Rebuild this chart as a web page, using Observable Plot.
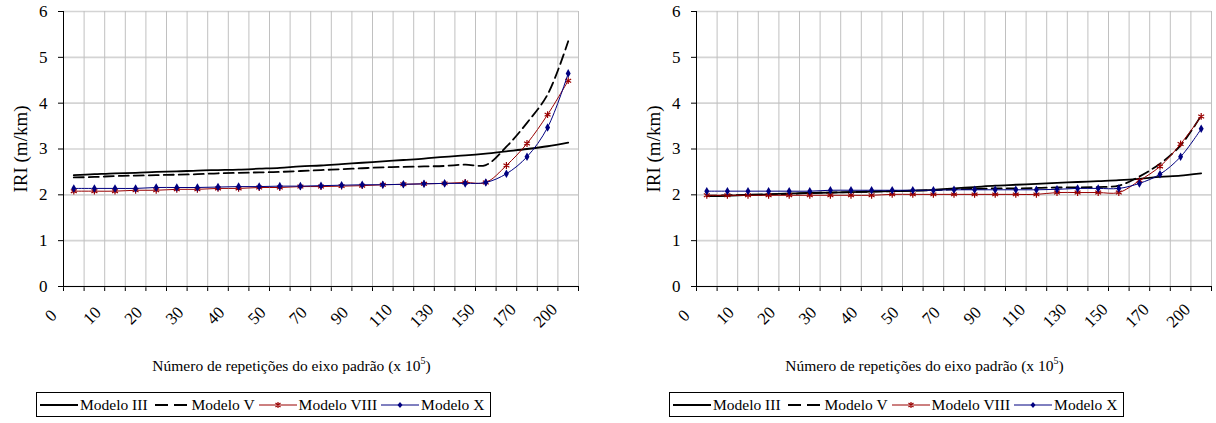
<!DOCTYPE html>
<html><head><meta charset="utf-8">
<script src="https://cdn.jsdelivr.net/npm/d3@7"></script>
<script src="https://cdn.jsdelivr.net/npm/@observablehq/plot@0.6"></script>
<style>
body{margin:0;background:#fff;font-family:"Liberation Serif","Times New Roman",serif;color:#000;}
#wrap{position:relative;width:1216px;height:423px;overflow:hidden;background:#fff;}
.panel{position:absolute;top:0;width:583px;height:423px;}
.panel > svg{position:absolute;left:0;top:0;}
.xtitle{position:absolute;top:357px;left:0;width:583px;text-align:center;font-size:15.5px;line-height:18px;white-space:nowrap;}
.xtitle sup{font-size:10px;line-height:0;vertical-align:7px;}
.legend{position:absolute;top:392px;left:36px;height:25px;border:1px solid #000;display:flex;align-items:center;font-size:15.5px;white-space:nowrap;padding:0 3px 0 2px;box-sizing:border-box;}
.legend svg{display:block;flex:none;}
.legend span{margin:0 3px 0 1px;}
</style></head><body><div id="wrap"></div>
<script>
// categories along the x axis (every other one is labelled)
const categories = ["0","5","10","15","20","25","30","35","40","45","50","60","70","80","90","100","110","120","130","140","150","160","170","185","200"];
const tickLabels = ["0","10","20","30","40","50","70","90","110","130","150","170","200"];
const yTicks = [0,1,2,3,4,5,6];
const seriesNames = ["Modelo III","Modelo V","Modelo VIII","Modelo X"];
const xTitle = "Número de repetições do eixo padrão (x 10";
const xTitleSup = "5";
const yTitle = "IRI (m/km)";

// left panel
const leftIII  = [2.43,2.45,2.47,2.48,2.50,2.51,2.53,2.54,2.55,2.57,2.59,2.62,2.64,2.67,2.70,2.73,2.76,2.79,2.83,2.86,2.90,2.95,3.00,3.06,3.14];
const leftV    = [2.38,2.39,2.41,2.42,2.43,2.44,2.45,2.47,2.48,2.49,2.50,2.52,2.54,2.56,2.58,2.60,2.61,2.62,2.63,2.66,2.65,3.05,3.57,4.19,5.35];
const leftVIII = [2.08,2.08,2.08,2.10,2.10,2.12,2.12,2.14,2.14,2.16,2.16,2.18,2.18,2.19,2.20,2.22,2.23,2.24,2.25,2.27,2.27,2.64,3.12,3.75,4.49];
const leftX    = [2.14,2.14,2.14,2.14,2.16,2.16,2.16,2.17,2.18,2.18,2.19,2.19,2.20,2.21,2.22,2.22,2.23,2.24,2.25,2.25,2.27,2.46,2.83,3.47,4.65];

// right panel
const rightIII  = [1.97,1.98,2.00,2.01,2.03,2.04,2.05,2.06,2.07,2.08,2.09,2.11,2.14,2.17,2.20,2.22,2.24,2.26,2.28,2.30,2.32,2.35,2.39,2.42,2.47];
const rightV    = [1.98,1.99,2.00,2.01,2.02,2.04,2.05,2.06,2.07,2.08,2.09,2.10,2.12,2.13,2.14,2.14,2.15,2.16,2.16,2.17,2.20,2.40,2.68,3.08,3.73];
const rightVIII = [1.99,1.99,1.99,1.99,1.99,1.99,1.99,1.99,1.99,2.01,2.01,2.01,2.01,2.01,2.01,2.01,2.01,2.05,2.05,2.05,2.05,2.31,2.62,3.11,3.71];
const rightX    = [2.08,2.08,2.08,2.08,2.08,2.08,2.10,2.10,2.10,2.10,2.10,2.10,2.11,2.11,2.11,2.11,2.11,2.12,2.14,2.14,2.14,2.25,2.45,2.83,3.44];

const FONT = '"Liberation Serif","Times New Roman",serif';
const RED = "#990000", BLUE = "#000080";

function rows(arr){ return arr.map((v,i)=>({i, v})); }

function makePlot(III, V, VIII, X){
  const n = categories.length;
  const boundaries = d3.range(n+1).map(k=>k-0.5);
  const labelIdx = tickLabels.map(t=>categories.indexOf(t));
  return Plot.plot({
    width: 583, height: 340,
    marginTop: 11, marginLeft: 63, marginRight: 5, marginBottom: 54,
    style: {fontFamily: FONT, fontSize: "17px", background: "white", color: "black", overflow: "visible"},
    x: {type: "linear", domain: [-0.5, n-0.5], ticks: boundaries, tickFormat: () => "", tickSize: 5, label: null},
    y: {domain: [0,6], ticks: yTicks, tickFormat: d3.format("d"), tickSize: 5, tickPadding: 11, label: null},
    marks: [
      Plot.ruleY(yTicks, {stroke: "#d4d4d4", strokeWidth: 1.6}),
      Plot.ruleX(boundaries, {stroke: "#c0c0c0", strokeWidth: 1}),
      Plot.ruleY([0], {stroke: "black", strokeWidth: 1}),
      Plot.ruleX([-0.5], {stroke: "black", strokeWidth: 1}),
      Plot.text(labelIdx, {x: d=>d, frameAnchor: "bottom", text: d=>categories[d], rotate: -45, dx: -19, dy: 33, fontSize: 17, textAnchor: "middle"}),
      Plot.text([yTitle], {frameAnchor: "left", dx: -43, rotate: -90, fontSize: 19, textAnchor: "middle"}),
      Plot.line(rows(III), {x: "i", y: "v", stroke: "black", strokeWidth: 1.8, curve: "catmull-rom"}),
      Plot.line(rows(V), {x: "i", y: "v", stroke: "black", strokeWidth: 1.8, strokeDasharray: "10,5", curve: "catmull-rom"}),
      Plot.line(rows(VIII), {x: "i", y: "v", stroke: RED, strokeWidth: 1, curve: "catmull-rom"}),
      Plot.dot(rows(VIII), {x: "i", y: "v", symbol: "asterisk", stroke: RED, strokeWidth: 1.2, r: 3.2}),
      Plot.line(rows(X), {x: "i", y: "v", stroke: BLUE, strokeWidth: 1, curve: "catmull-rom"}),
      Plot.dot(rows(X), {x: "i", y: "v", symbol: "diamond", fill: BLUE, r: 2.6})
    ]
  });
}

function swatch(kind){
  const w = 40;
  let s = `<svg width="${w}" height="12">`;
  if (kind === 0) s += `<line x1="1" y1="6" x2="${w-1}" y2="6" stroke="black" stroke-width="1.8"/>`;
  if (kind === 1) s += `<line x1="4" y1="6" x2="36" y2="6" stroke="black" stroke-width="1.8" stroke-dasharray="13,6"/>`;
  if (kind === 2) s += `<line x1="1" y1="6" x2="${w-1}" y2="6" stroke="${RED}" stroke-width="1"/><path d="M20,3V9M17.5,4L22.5,8M22.5,4L17.5,8" stroke="${RED}" stroke-width="1.2" fill="none"/>`;
  if (kind === 3) s += `<line x1="1" y1="6" x2="${w-1}" y2="6" stroke="${BLUE}" stroke-width="1"/><path d="M20,3L22.5,6L20,9L17.5,6Z" fill="${BLUE}"/>`;
  return s + `</svg>`;
}

function panel(offset, data){
  const p = document.createElement("div");
  p.className = "panel";
  p.style.left = offset + "px";
  p.appendChild(makePlot(...data));
  const t = document.createElement("div");
  t.className = "xtitle";
  t.innerHTML = `${xTitle}<sup>${xTitleSup}</sup>)`;
  p.appendChild(t);
  const lg = document.createElement("div");
  lg.className = "legend";
  lg.innerHTML = seriesNames.map((nm,k)=>`${swatch(k)}<span>${nm}</span>`).join("");
  p.appendChild(lg);
  document.getElementById("wrap").appendChild(p);
}

panel(0, [leftIII, leftV, leftVIII, leftX]);
panel(633, [rightIII, rightV, rightVIII, rightX]);
</script>
</body></html>
